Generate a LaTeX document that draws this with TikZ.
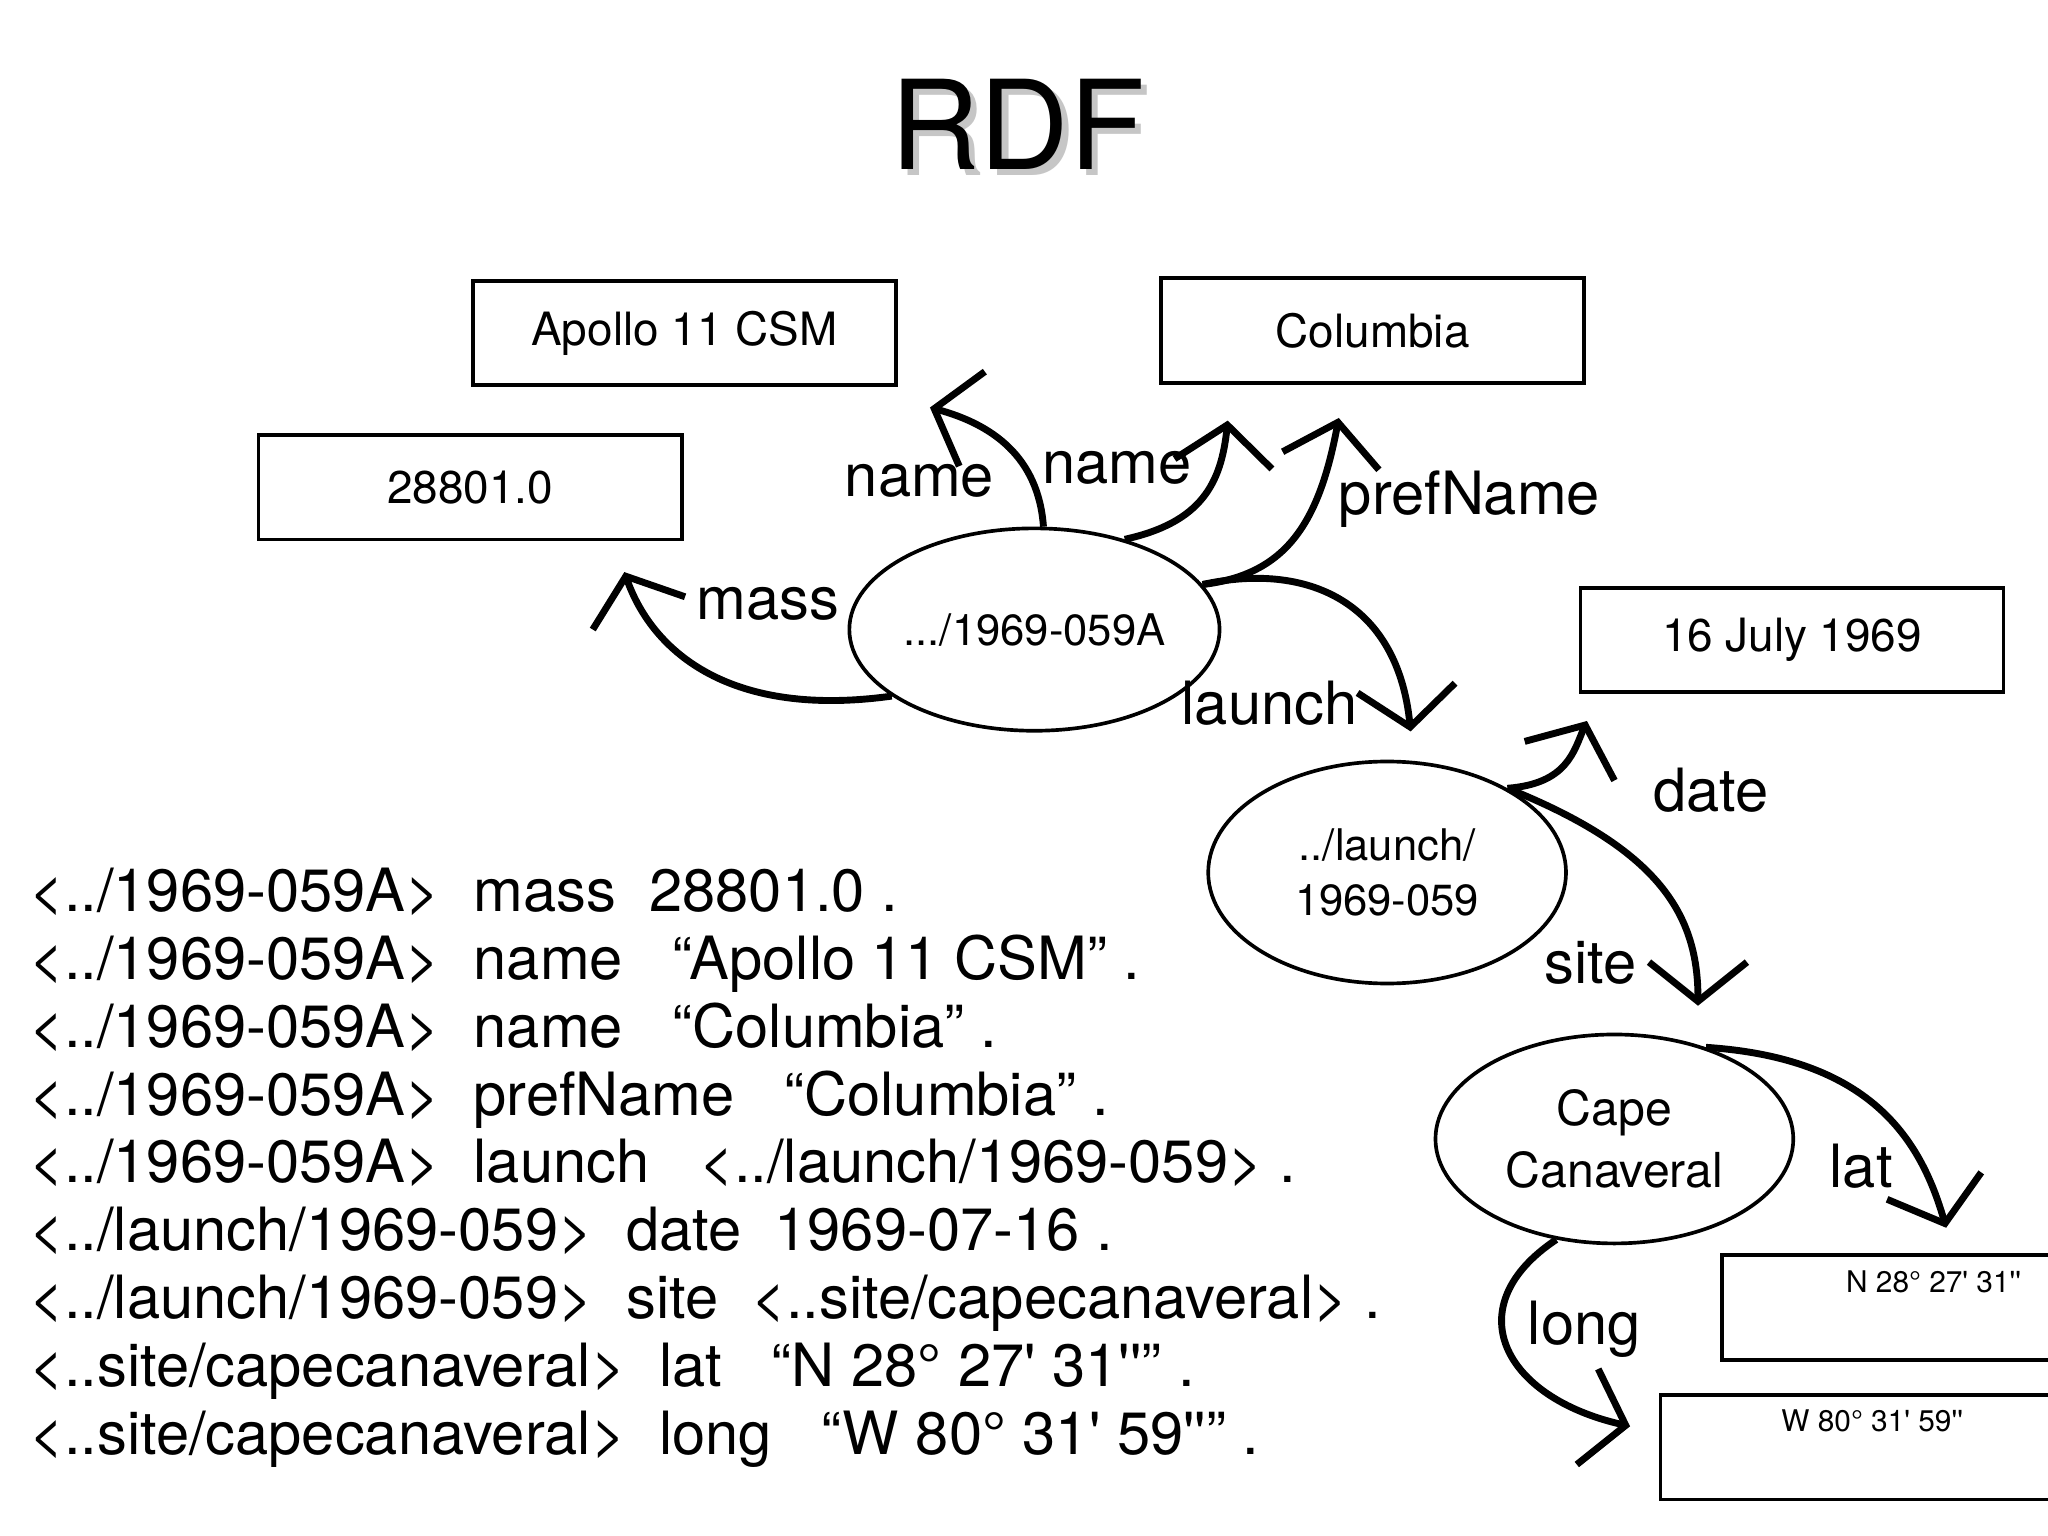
\documentclass[tikz,border=0pt]{standalone}
\usepackage{fontspec}
\setmainfont{TeX Gyre Heros}
\usetikzlibrary{arrows.meta,shapes.geometric}
\tikzset{
  lit/.style={draw,line width=1.6pt,minimum width=6.48cm,minimum height=1.6cm,font=\fontsize{20}{24}\selectfont},
  res/.style={draw,ellipse,line width=1.6pt,inner sep=0pt,minimum width=5.48cm,minimum height=3.1cm,align=center,font=\fontsize{19}{24}\selectfont},
  rel/.style={line width=3pt,-{Straight Barb[length=0.6cm,width=1.5cm,line width=3pt]}},
  lbl/.style={font=\fontsize{26}{30}\selectfont,inner sep=0pt}
}
\newcommand{\sq}{\textquotesingle}
\begin{document}
\begin{tikzpicture}[x={(0.02cm,0)},y={(0,-0.02cm)}]
    \useasboundingbox (0,0) rectangle (1568,1176);
    % title
    \node[font=\fontsize{54}{60}\selectfont,text=gray!45] at (784,100) {RDF};
    \node (title) [font=\fontsize{54}{60}\selectfont] at (779,95) {RDF};
    % literals
    \node (apollo) [lit] at (524,255) {Apollo 11 CSM};
    \node (columbia) [lit] at (1051,253) {Columbia};
    \node (mass) [lit] at (360,373) {28801.0};
    \node (date) [lit] at (1372,490) {16 July 1969};
    \node (lat) [lit,anchor=west,font=\fontsize{13}{16}\selectfont,text depth=0.8cm,minimum height=1.6cm] at (1317,1001) {N 28° 27\sq{} 31\sq\sq};
    \node (long) [lit,anchor=west,font=\fontsize{13}{16}\selectfont,text depth=0.8cm,minimum height=1.6cm] at (1270,1108) {W 80° 31\sq{} 59\sq\sq};
    % resources
    \node (csm) [res] at (792,482) {.../1969-059A};
    \node (launch) [res,minimum height=3.4cm] at (1062,668) {../launch/\\1969-059};
    \node (cape) [res,minimum height=3.2cm,font=\fontsize{21}{27}\selectfont] at (1236,872) {Cape\\Canaveral};
    % arrow ends
    \coordinate (e1) at (478,438);
    \coordinate (e2) at (712,312);
    \coordinate (e3) at (940,322);
    \coordinate (e4) at (1025,320);
    \coordinate (e5) at (1080,560);
    \coordinate (e6) at (1215,552);
    \coordinate (e7) at (1300,770);
    \coordinate (e8) at (1490,940);
    \coordinate (e9) at (1248,1092);
    \draw[rel] (csm.205) .. controls (560,550) and (500,500) .. (e1);
    \draw[rel] (csm.85) .. controls (795,350) and (760,325) .. (e2);
    \draw[rel] (csm.45) .. controls (920,400) and (935,370) .. (e3);
    \draw[rel] (csm.15) .. controls (985,440) and (1010,400) .. (e4);
    \draw[rel] (csm.15) .. controls (1000,430) and (1070,460) .. (e5);
    \draw[rel] (launch.35) .. controls (1200,600) and (1205,575) .. (e6);
    \draw[rel] (launch.35) .. controls (1270,650) and (1300,700) .. (e7);
    \draw[rel] (cape.45) .. controls (1430,810) and (1470,870) .. (e8);
    \draw[rel] (cape.240) .. controls (1115,1000) and (1150,1070) .. (e9);
    % labels
    \node[lbl] at (588,462) {mass};
    \node[lbl] at (704,368) {name};
    \node[lbl] at (855,358) {name};
    \node[lbl] at (1125,382) {prefName};
    \node[lbl] at (972,538) {launch};
    \node[lbl] at (1310,605) {date};
    \node[lbl] at (1218,737) {site};
    \node[lbl] at (1425,893) {lat};
    \node[lbl] at (1213,1018) {long};
    % triples
    \node (triples) [anchor=north west,align=left,inner sep=0pt,font=\fontsize{26}{29.6}\selectfont] at (22,664) {%
      <../1969-059A>\ \ mass\ \ 28801.0 .\\
      <../1969-059A>\ \ name\ \ \ “Apollo 11 CSM” .\\
      <../1969-059A>\ \ name\ \ \ “Columbia” .\\
      <../1969-059A>\ \ prefName\ \ \ “Columbia” .\\
      <../1969-059A>\ \ launch\ \ \ <../launch/1969-059> .\\
      <../launch/1969-059>\ \ date\ \ 1969-07-16 .\\
      <../launch/1969-059>\ \ site\ \ <..site/capecanaveral> .\\
      <..site/capecanaveral>\ \ lat\ \ \ “N 28° 27\sq{} 31\sq\sq” .\\
      <..site/capecanaveral>\ \ long\ \ \ “W 80° 31\sq{} 59\sq\sq” .};
\end{tikzpicture}
\end{document}
